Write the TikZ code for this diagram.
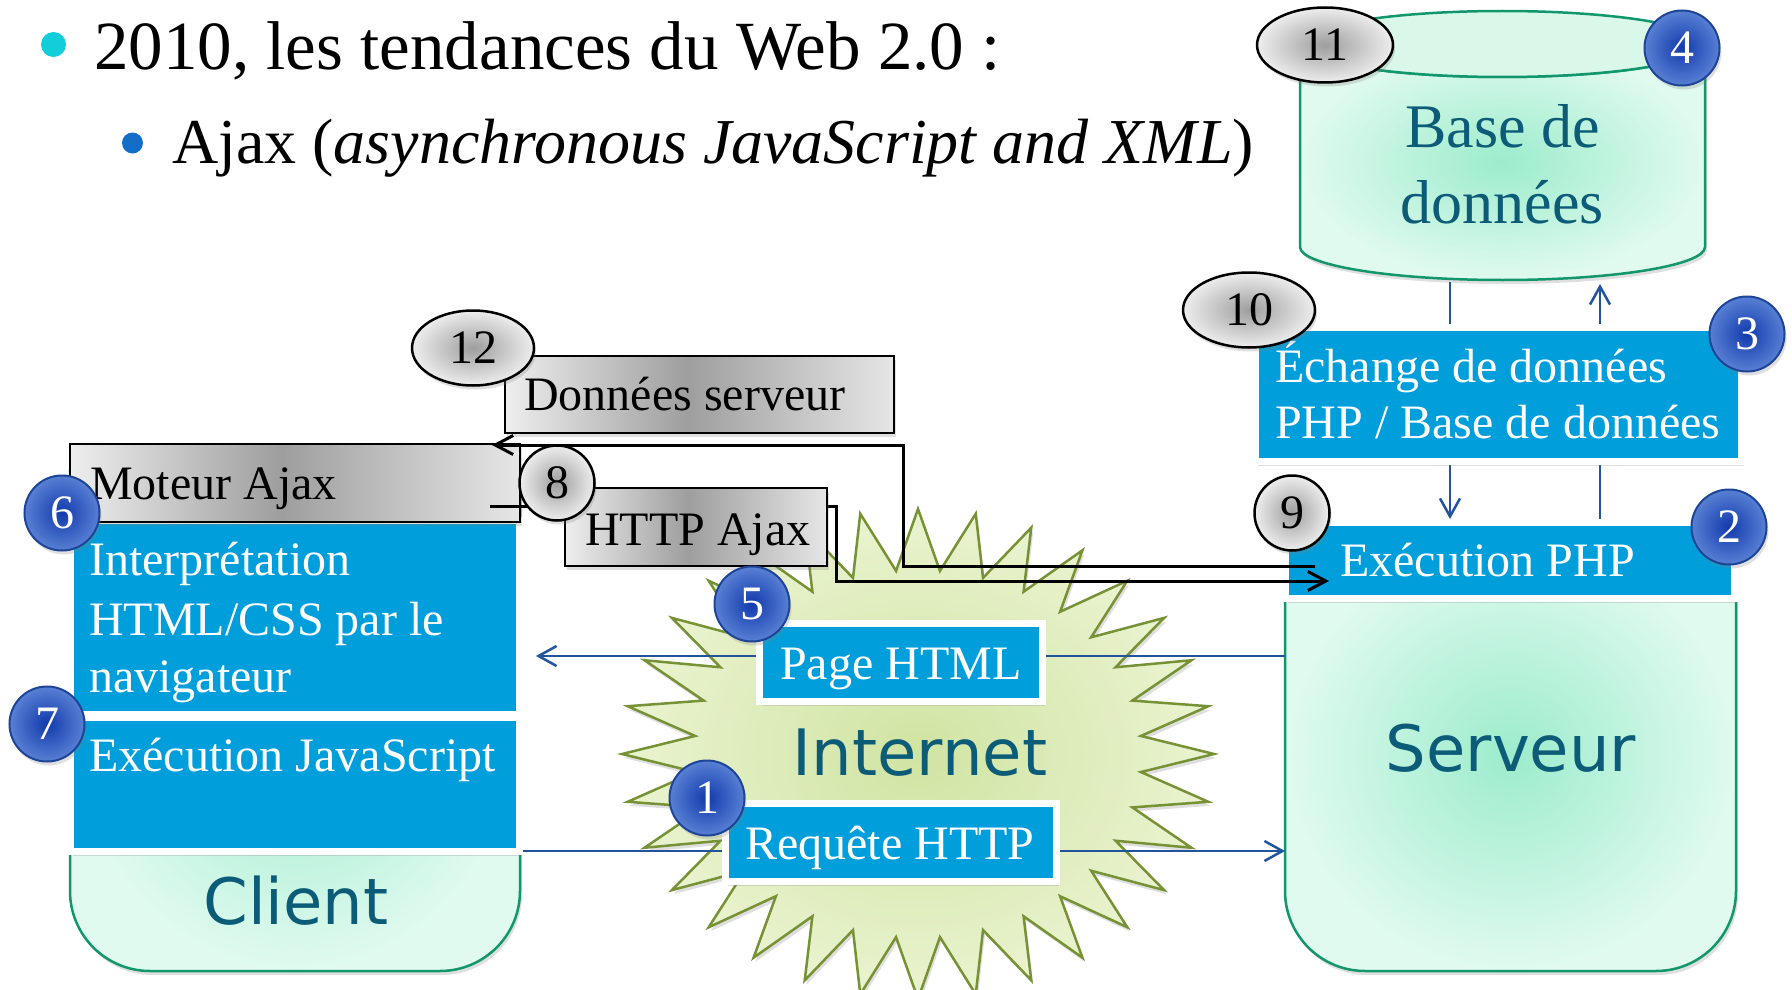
\documentclass[tikz,border=0pt]{standalone}
\usepackage{fontspec}
\setmainfont{Liberation Serif}
\newfontfamily\labsans{DejaVu Sans}
\usetikzlibrary{shapes.geometric,arrows.meta,shadows,calc}
\definecolor{boxblue}{RGB}{0,158,218}
\definecolor{arrowblue}{RGB}{34,84,158}
\definecolor{mintin}{RGB}{156,236,204}
\definecolor{mintout}{RGB}{224,250,239}
\definecolor{dbtop}{RGB}{218,248,234}
\definecolor{mintdraw}{RGB}{18,150,108}
\definecolor{tealtext}{RGB}{12,92,120}
\definecolor{starin}{RGB}{208,228,162}
\definecolor{starout}{RGB}{234,243,208}
\definecolor{stardraw}{RGB}{118,146,52}
\definecolor{badgein}{RGB}{18,58,172}
\definecolor{badgeout}{RGB}{88,128,212}
\definecolor{badgedraw}{RGB}{30,68,150}
\definecolor{bulcyan}{RGB}{18,205,218}
\definecolor{bulblue}{RGB}{18,110,200}
\definecolor{silverL}{RGB}{238,238,238}
\definecolor{silverD}{RGB}{158,158,158}
\definecolor{silverR}{RGB}{230,230,230}
\newcommand\myfs[1]{\fontsize{#1}{#1}\selectfont}
\pgfdeclarelayer{bg}
\pgfdeclarelayer{blines}
\pgfdeclarelayer{klines}
\pgfdeclarelayer{top}
\pgfsetlayers{bg,blines,main,klines,top}
\begin{document}
\begin{tikzpicture}[x=1pt,y=-1pt,
  shad/.style={drop shadow={shadow xshift=2pt,shadow yshift=-4pt,opacity=0.25}},
  bluebox/.style={rectangle,draw=white,line width=7pt,fill=boxblue,inner sep=0pt,shad},
  graybox/.style={rectangle,draw=black,line width=2.5pt,fill=silverL,inner sep=0pt,shad,
    path picture={
      \coordinate (ppsw) at (path picture bounding box.south west);
      \coordinate (ppne) at (path picture bounding box.north east);
      \coordinate (ppmid) at ($(ppsw)!0.47!(ppne)$);
      \shade[left color=silverL,right color=silverD] (ppsw) rectangle (ppmid |- ppne);
      \shade[left color=silverD,right color=silverR] (ppmid |- ppsw) rectangle (ppne);
    }},
  bbadge/.style={ellipse,draw=badgedraw,line width=2pt,inner color=badgein,outer color=badgeout,minimum width=75pt,minimum height=75pt,inner sep=0pt,text=white,font=\myfs{48},shad},
  gbadge/.style={ellipse,draw=black,line width=2.5pt,inner color=black!38,outer color=black!7,minimum width=75pt,minimum height=75pt,inner sep=0pt,text=black,font=\myfs{48},shad},
  wtxt/.style={anchor=base west,inner sep=0pt,text=white,font=\myfs{48}},
  ktxt/.style={anchor=base west,inner sep=0pt,text=black,font=\myfs{48}},
  bigsans/.style={anchor=base,inner sep=0pt,text=tealtext,font=\labsans\myfs{64}},
  bluearrow/.style={draw=arrowblue,line width=2.5pt,-{Straight Barb[length=18pt,width=20pt]}},
  blackarrow/.style={draw=black,line width=3pt,-{Straight Barb[length=18pt,width=19pt]}},
  body/.style={draw=mintdraw,line width=2.5pt,inner color=mintin,outer color=mintout,shad}]
\useasboundingbox (0,0) rectangle (1792,990);

\begin{pgfonlayer}{bg}
\fill[white] (0,0) rectangle (1792,990);
% title
\fill[bulcyan] (53.5,44.5) circle [radius=12.5];
\node[anchor=base west,inner sep=0pt,font=\myfs{69}] (title1) at (94,70) {2010, les tendances du Web 2.0 :};
\fill[bulblue] (132.5,143) circle [radius=10.5];
\node[anchor=base west,inner sep=0pt,font=\myfs{64}] (title2) at (172,163) {Ajax (\textit{asynchronous JavaScript and XML})};
% internet star
\begin{scope}[shift={(918,754)}]
\path[draw=stardraw,line width=2.5pt,inner color=starin,outer color=starout,shad]
  (0:296 and 245) \foreach \i in {1,...,32}{ -- ({\i*11.25-5.625}:224 and 184) -- ({\i*11.25}:296 and 245)} -- cycle;
\end{scope}
\node[bigsans] (internet) at (920,775) {Internet};
% database
\path[body] (1300,44) -- (1300,247) arc[start angle=180,end angle=0,x radius=202.5,y radius=33]
  -- (1705,44) arc[start angle=0,end angle=180,x radius=202.5,y radius=33] -- cycle;
\path[draw=mintdraw,line width=2.5pt,fill=dbtop] (1502.5,44) ellipse [x radius=202.5,y radius=33];
\node[anchor=base,inner sep=0pt,text=tealtext,font=\myfs{62}] (db1) at (1502.5,147) {Base de};
\node[anchor=base,inner sep=0pt,text=tealtext,font=\myfs{62}] (db2) at (1502.5,223) {données};
% client and server bodies
\path[body] (70,470) [rounded corners=80pt]-- (70,971) -- (520,971) [sharp corners]-- (520,470) -- cycle;
\path[body] (1285,540) [rounded corners=80pt]-- (1285,971) -- (1736,971) [sharp corners]-- (1736,540) -- cycle;
\node[bigsans] (client) at (296,924) {Client};
\node[bigsans] (serveur) at (1511,771) {Serveur};
\end{pgfonlayer}

% main boxes
\node[bluebox,minimum width=449pt,minimum height=194pt] (interp) at (295,617.5) {};
\node[bluebox,minimum width=449pt,minimum height=134pt] (js) at (295,784.5) {};
\node[bluebox,minimum width=486pt,minimum height=134pt] (echange) at (1498.5,394.5) {};
\node[bluebox,minimum width=449pt,minimum height=76pt] (exec) at (1510,560.5) {};
\node[bluebox,minimum width=283pt,minimum height=78pt] (page) at (901,662.5) {};
\node[bluebox,minimum width=331pt,minimum height=78pt] (req) at (891,842.5) {};
\node[graybox,minimum width=450pt,minimum height=78pt] (moteur) at (295,483) {};
\node[graybox,minimum width=389pt,minimum height=77pt] (donnees) at (699.5,394.5) {};

\node[wtxt] (tinterp1) at (89,575) {Interprétation};
\node[wtxt] (tinterp2) at (89,635) {HTML/CSS par le};
\node[wtxt] (tinterp3) at (89,692) {navigateur};
\node[wtxt] (tjs) at (89,771) {Exécution JavaScript};
\node[wtxt] (tpage) at (780,679) {Page HTML};
\node[wtxt] (treq) at (745,859) {Requête HTTP};
\node[wtxt] (tech1) at (1275,382) {Échange de données};
\node[wtxt] (tech2) at (1275,438) {PHP / Base de données};
\node[wtxt] (texec) at (1340,576) {Exécution PHP};
\node[ktxt] (tmoteur) at (90,499) {Moteur Ajax};
\node[ktxt] (tdonnees) at (524,410) {Données serveur};

% connector end points
\coordinate (dbA) at (1450,282);
\coordinate (dbB) at (1600,284);
\coordinate (srvPage) at (1285,656);
\coordinate (cliPage) at (536,656);
\coordinate (cliReq) at (523,851);
\coordinate (srvReq) at (1285,851);
\coordinate (ajaxOut) at (490,506);
\coordinate (phpIn) at (1329,581);
\coordinate (phpOut) at (1315,566);
\coordinate (ajaxIn) at (492,445);

\begin{pgfonlayer}{blines}
\draw[bluearrow] (dbA) -- (dbA |- exec.north);
\draw[bluearrow] (dbB |- exec.north) -- (dbB);
\draw[bluearrow] (srvPage) -- (cliPage);
\draw[bluearrow] (cliReq) -- (srvReq);
\end{pgfonlayer}

\begin{pgfonlayer}{klines}
\draw[blackarrow] (ajaxOut) -| (836,581) -- (phpIn);
\draw[blackarrow] (phpOut) -- (903,566) |- (ajaxIn);
\end{pgfonlayer}

\begin{pgfonlayer}{top}
\node[graybox,minimum width=262pt,minimum height=78pt] (httpajax) at (696,527) {};
\node[ktxt] (thttp) at (585,545) {HTTP Ajax};
\node[bbadge] (b1) at (707,798) {1};
\node[bbadge] (b2) at (1729,527) {2};
\node[bbadge] (b3) at (1747,334) {3};
\node[bbadge] (b4) at (1682,48) {4};
\node[bbadge] (b5) at (752,604) {5};
\node[bbadge] (b6) at (62,513) {6};
\node[bbadge] (b7) at (47,724) {7};
\node[gbadge] (b8) at (557,483) {8};
\node[gbadge] (b9) at (1292,513) {9};
\node[gbadge,minimum width=132pt] (b10) at (1249,310) {10};
\node[gbadge,minimum width=136pt] (b11) at (1325,45) {11};
\node[gbadge,minimum width=122pt] (b12) at (473,348) {12};
\end{pgfonlayer}
\end{tikzpicture}
\end{document}
